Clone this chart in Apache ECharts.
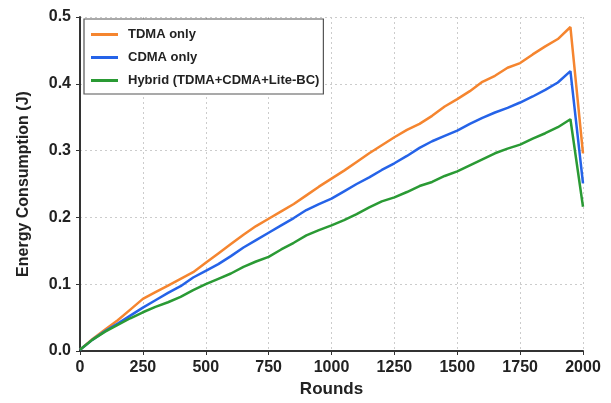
<!DOCTYPE html>
<html>
<head>
<meta charset="utf-8">
<script src="https://cdn.jsdelivr.net/npm/echarts@6/dist/echarts.min.js"></script>
<style>
  html, body { margin: 0; padding: 0; background: #fff; }
  #chart { width: 611px; height: 403px; }
</style>
</head>
<body>
<div id="chart"></div>
<script>
// rounds sampled every 50
var rounds = [];
for (var r = 0; r <= 2000; r += 50) rounds.push(r);

var tdma = [0.002, 0.018, 0.032, 0.046, 0.062, 0.078, 0.088, 0.098, 0.108, 0.118,
  0.132, 0.146, 0.160, 0.174, 0.187, 0.198, 0.209, 0.220, 0.233, 0.246,
  0.258, 0.270, 0.283, 0.296, 0.308, 0.320, 0.331, 0.340, 0.352, 0.366,
  0.377, 0.389, 0.403, 0.412, 0.424, 0.431, 0.444, 0.456, 0.467, 0.485,
  0.296];
var cdma = [0.002, 0.017, 0.030, 0.041, 0.053, 0.065, 0.076, 0.087, 0.097, 0.110,
  0.120, 0.130, 0.142, 0.155, 0.166, 0.177, 0.188, 0.199, 0.211, 0.220,
  0.228, 0.239, 0.250, 0.260, 0.271, 0.281, 0.292, 0.304, 0.314, 0.322,
  0.330, 0.340, 0.349, 0.357, 0.364, 0.372, 0.381, 0.391, 0.402, 0.419,
  0.251];
var hybrid = [0.002, 0.017, 0.029, 0.039, 0.049, 0.058, 0.066, 0.073, 0.081, 0.091,
  0.100, 0.108, 0.116, 0.126, 0.134, 0.141, 0.152, 0.162, 0.173, 0.181,
  0.188, 0.196, 0.205, 0.215, 0.224, 0.230, 0.238, 0.247, 0.253, 0.262,
  0.269, 0.278, 0.287, 0.296, 0.303, 0.309, 0.318, 0.326, 0.335, 0.347,
  0.216];

var names = ['TDMA only', 'CDMA only', 'Hybrid (TDMA+CDMA+Lite-BC)'];
var colors = ['#f5852f', '#2563e8', '#2a9a34'];

function pairs(ys) {
  return rounds.map(function (x, i) { return [x, ys[i]]; });
}

var font = 'Liberation Sans, Arial, sans-serif';
var chart = echarts.init(document.getElementById('chart'));

var option = {
  animation: false,
  backgroundColor: '#fff',
  color: colors,
  grid: { left: 80, right: 28, top: 17, bottom: 52 },
  legend: {
    orient: 'vertical',
    left: 84,
    top: 19,
    icon: 'rect',
    itemWidth: 27,
    itemHeight: 3,
    itemGap: 10,
    padding: [9, 4, 7, 7],
    borderColor: '#555',
    borderWidth: 1.2,
    backgroundColor: '#fff',
    data: names,
    textStyle: { fontFamily: font, fontSize: 13, fontWeight: 'bold', color: '#222', padding: [0, 0, 0, 5] }
  },
  xAxis: {
    type: 'value',
    min: 0,
    max: 2000,
    interval: 250,
    name: 'Rounds',
    nameLocation: 'middle',
    nameGap: 30,
    nameTextStyle: { fontFamily: font, fontSize: 17, fontWeight: 'bold', color: '#222' },
    axisLine: { lineStyle: { color: '#333', width: 2 } },
    axisTick: { show: true, length: 4, lineStyle: { color: '#333' } },
    axisLabel: {
      fontFamily: font, fontSize: 16, fontWeight: 'bold', color: '#222', margin: 9,
      formatter: function (v) { return String(v); }
    },
    splitLine: { show: true, lineStyle: { color: '#cccccc', type: [2, 3], width: 1 } }
  },
  yAxis: {
    type: 'value',
    min: 0,
    max: 0.5,
    interval: 0.1,
    name: 'Energy Consumption (J)',
    nameLocation: 'middle',
    nameGap: 48,
    nameTextStyle: { fontFamily: font, fontSize: 16, fontWeight: 'bold', color: '#222' },
    axisLine: { show: true, lineStyle: { color: '#333', width: 2 } },
    axisTick: { show: true, length: 4, lineStyle: { color: '#333' } },
    axisLabel: {
      fontFamily: font, fontSize: 16, fontWeight: 'bold', color: '#222', margin: 9,
      formatter: function (v) { return v.toFixed(1); }
    },
    splitLine: { show: true, lineStyle: { color: '#cccccc', type: [2, 3], width: 1 } }
  },
  series: [
    { name: names[0], type: 'line', data: pairs(tdma), symbol: 'none', lineStyle: { width: 2.5 } },
    { name: names[1], type: 'line', data: pairs(cdma), symbol: 'none', lineStyle: { width: 2.5 } },
    { name: names[2], type: 'line', data: pairs(hybrid), symbol: 'none', lineStyle: { width: 2.5 } }
  ]
};

chart.setOption(option);
</script>
</body>
</html>
